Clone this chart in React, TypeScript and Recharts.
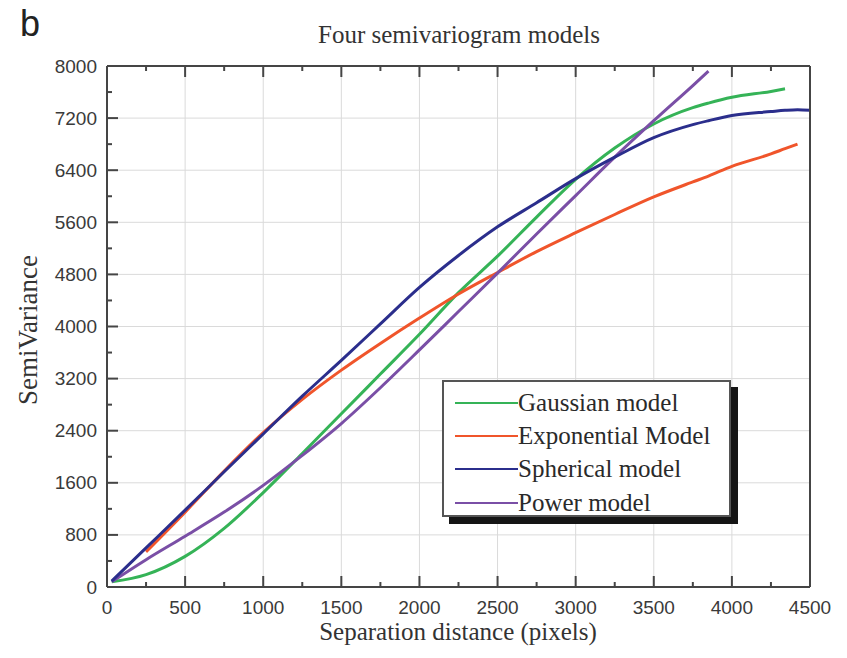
import React from "react";
import { LineChart, Line, XAxis, YAxis, CartesianGrid } from "recharts";

// separation distance (pixels) where the curves were read
const distances = [30, 250, 500, 750, 1000, 1250, 1500, 1750, 2000, 2250, 2500, 2750, 3000, 3250, 3500, 3750, 3850, 4000, 4250, 4340, 4420, 4500];

const gaussian = [80, 190, 470, 900, 1450, 2050, 2660, 3270, 3880, 4520, 5080, 5680, 6260, 6740, 7110, 7360, 7430, 7520, 7610, 7650, null, null];
const exponential = [null, 540, 1150, 1780, 2370, 2880, 3330, 3740, 4130, 4500, 4830, 5150, 5440, 5720, 5990, 6220, 6310, 6460, 6650, 6730, 6800, null];
const spherical = [90, 600, 1180, 1770, 2350, 2930, 3480, 4040, 4600, 5090, 5530, 5900, 6270, 6600, 6900, 7100, 7160, 7240, 7300, 7320, 7330, 7320];
const power = [80, 420, 780, 1150, 1560, 2020, 2510, 3060, 3640, 4230, 4820, 5420, 6010, 6600, 7160, 7700, 7920, null, null, null, null, null];

const xTicks = [0, 250, 500, 750, 1000, 1250, 1500, 1750, 2000, 2250, 2500, 2750, 3000, 3250, 3500, 3750, 4000, 4250, 4500];
const xMajor = [0, 500, 1000, 1500, 2000, 2500, 3000, 3500, 4000, 4500];
const yTicks = [0, 400, 800, 1200, 1600, 2000, 2400, 2800, 3200, 3600, 4000, 4400, 4800, 5200, 5600, 6000, 6400, 6800, 7200, 7600, 8000];
const yMajor = [0, 800, 1600, 2400, 3200, 4000, 4800, 5600, 6400, 7200, 8000];

const series = [
  { key: "gaussian", name: "Gaussian model", color: "#35b357" },
  { key: "exponential", name: "Exponential Model", color: "#f0552b" },
  { key: "power", name: "Power model", color: "#7a4fa6" },
  { key: "spherical", name: "Spherical model", color: "#2b2e8c" },
];
const legendOrder = ["gaussian", "exponential", "spherical", "power"];

const AXIS = "#454545";
const TICK_TEXT = "#3a3a3a";
const SANS = "'Liberation Sans', Arial, sans-serif";
const SERIF = "'Liberation Serif', 'Times New Roman', serif";
const MAJOR_LEN = 11;
const MINOR_LEN = 5;
const X_GAP = 20; // tickMargin of the bottom axis
const Y_GAP = 10; // tickMargin of the left axis

const BottomTick = (props: any) => {
  const { x, y, payload } = props;
  const axisY = y - X_GAP;
  const major = payload.value % 500 === 0;
  return (
    <g>
      <line x1={x} x2={x} y1={axisY} y2={axisY - (major ? MAJOR_LEN : MINOR_LEN)} stroke={AXIS} strokeWidth={2} />
      {major && (
        <text x={x} y={y} textAnchor="middle" dominantBaseline="central" fontFamily={SANS} fontSize={19} fill={TICK_TEXT}>
          {payload.value}
        </text>
      )}
    </g>
  );
};

const TopTick = (props: any) => {
  const { x, y, payload } = props;
  const major = payload.value % 500 === 0;
  return <line x1={x} x2={x} y1={y} y2={y + (major ? MAJOR_LEN : MINOR_LEN)} stroke={AXIS} strokeWidth={2} />;
};

const LeftTick = (props: any) => {
  const { x, y, payload } = props;
  const axisX = x + Y_GAP;
  const major = payload.value % 800 === 0;
  return (
    <g>
      <line x1={axisX} x2={axisX + (major ? MAJOR_LEN : MINOR_LEN)} y1={y} y2={y} stroke={AXIS} strokeWidth={2} />
      {major && (
        <text x={x} y={y} textAnchor="end" dominantBaseline="central" fontFamily={SANS} fontSize={19} fill={TICK_TEXT}>
          {payload.value}
        </text>
      )}
    </g>
  );
};

const RightTick = (props: any) => {
  const { x, y, payload } = props;
  const major = payload.value % 800 === 0;
  return <line x1={x} x2={x - (major ? MAJOR_LEN : MINOR_LEN)} y1={y} y2={y} stroke={AXIS} strokeWidth={2} />;
};

export default function App() {
  const data = distances.map((d, i) => ({
    distance: d,
    gaussian: gaussian[i],
    exponential: exponential[i],
    spherical: spherical[i],
    power: power[i],
  }));

  return (
    <div style={{ position: "absolute", left: 0, top: 0, width: 847, height: 658, background: "#fff" }}>
      <LineChart width={847} height={658} data={data} margin={{ top: 65, right: 36, left: 7, bottom: 0 }}>
        <CartesianGrid verticalValues={xMajor} horizontalValues={yMajor} stroke="#dadada" strokeWidth={1} />
        <XAxis
          dataKey="distance"
          type="number"
          domain={[0, 4500]}
          ticks={xTicks}
          interval={0}
          height={71}
          tickLine={false}
          tickSize={0}
          tickMargin={X_GAP}
          axisLine={{ stroke: AXIS, strokeWidth: 2 }}
          tick={<BottomTick />}
        />
        <XAxis
          xAxisId="top"
          orientation="top"
          dataKey="distance"
          type="number"
          domain={[0, 4500]}
          ticks={xTicks}
          interval={0}
          height={1}
          tickLine={false}
          tickSize={0}
          tickMargin={0}
          axisLine={{ stroke: AXIS, strokeWidth: 2 }}
          tick={<TopTick />}
        />
        <YAxis
          type="number"
          domain={[0, 8000]}
          ticks={yTicks}
          interval={0}
          width={100}
          tickLine={false}
          tickSize={0}
          tickMargin={Y_GAP}
          axisLine={{ stroke: AXIS, strokeWidth: 2 }}
          tick={<LeftTick />}
        />
        <YAxis
          yAxisId="right"
          orientation="right"
          type="number"
          domain={[0, 8000]}
          ticks={yTicks}
          interval={0}
          width={1}
          tickLine={false}
          tickSize={0}
          tickMargin={0}
          axisLine={{ stroke: AXIS, strokeWidth: 2 }}
          tick={<RightTick />}
        />
        {series.map((s) => (
          <Line
            key={s.key}
            type="monotone"
            dataKey={s.key}
            name={s.name}
            stroke={s.color}
            strokeWidth={3}
            dot={false}
            isAnimationActive={false}
          />
        ))}
      </LineChart>

      {/* title, panel letter and axis titles */}
      <svg width={847} height={658} style={{ position: "absolute", left: 0, top: 0, pointerEvents: "none" }}>
        <text x={20} y={36} fontFamily={SANS} fontSize={36} fill="#222">b</text>
        <text x={459} y={43} textAnchor="middle" fontFamily={SERIF} fontSize={25} fill="#333">
          Four semivariogram models
        </text>
        <text x={458} y={640} textAnchor="middle" fontFamily={SERIF} fontSize={25} fill="#333">
          Separation distance (pixels)
        </text>
        <text x={37} y={330} textAnchor="middle" fontFamily={SERIF} fontSize={27} fill="#333" transform="rotate(-90 37 330)">
          SemiVariance
        </text>
      </svg>

      {/* legend box with hard shadow */}
      <div
        style={{
          position: "absolute",
          left: 442,
          top: 380,
          width: 289,
          height: 137,
          border: "2px solid #555",
          background: "#fff",
          boxShadow: "7px 7px 0 #151515",
          padding: "4px 0 0 11px",
          boxSizing: "border-box",
        }}
      >
        {legendOrder.map((k) => {
          const s = series.find((v) => v.key === k)!;
          return (
            <div key={k} style={{ display: "flex", alignItems: "center", height: 33.3 }}>
              <div style={{ width: 63, height: 2, background: s.color }} />
              <span style={{ fontFamily: SERIF, fontSize: 25, color: "#2a2a2a", lineHeight: "30px" }}>{s.name}</span>
            </div>
          );
        })}
      </div>
    </div>
  );
}
